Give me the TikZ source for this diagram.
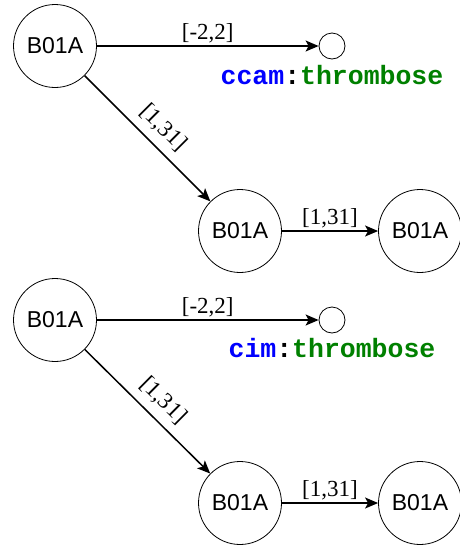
\documentclass[tikz,border=0pt]{standalone}
\usepackage{fontspec}
\setmainfont{Liberation Serif}
\setsansfont{Liberation Sans}
\setmonofont{Liberation Mono}
\usetikzlibrary{arrows.meta}
\definecolor{kwblue}{RGB}{0,0,255}
\definecolor{kwgreen}{RGB}{0,128,0}
\begin{document}
\begin{tikzpicture}[x=1pt,y=-1pt,
  state/.style={circle,draw,line width=0.8pt,minimum size=83pt,inner sep=0pt,font=\sffamily\fontsize{23}{26}\selectfont},
  endstate/.style={circle,draw,line width=0.8pt,minimum size=26pt,inner sep=0pt},
  trans/.style={-{Stealth[length=13pt,width=11pt,inset=3pt]},line width=1.5pt},
  lab/.style={font=\fontsize{23}{25}\selectfont},
  kw/.style={font=\ttfamily\bfseries\fontsize{26.5}{28}\selectfont}]
\useasboundingbox (0,0) rectangle (460,547);
% top
\node[state] (a1) at (55,46) {B01A};
\node[endstate] (e1) at (332,46) {};
\node[state] (b1) at (240,231) {B01A};
\node[state] (c1) at (420,231) {B01A};
\node[kw] (t1) at (332,75) {\textcolor{kwblue}{ccam}:\textcolor{kwgreen}{thrombose}};
\draw[trans] (a1) -- node[lab,above,yshift=-1pt] {[-2,2]} (e1);
\draw[trans] (a1) -- node[lab,sloped,above=5pt,pos=0.52] {[1,31]} (b1);
\draw[trans] (b1) -- node[lab,above,yshift=-1pt] {[1,31]} (c1);
% bottom
\node[state] (a2) at (55,320) {B01A};
\node[endstate] (e2) at (332,320) {};
\node[state] (b2) at (240,503) {B01A};
\node[state] (c2) at (420,503) {B01A};
\node[kw] (t2) at (332,348) {\textcolor{kwblue}{cim}:\textcolor{kwgreen}{thrombose}};
\draw[trans] (a2) -- node[lab,above,yshift=-1pt] {[-2,2]} (e2);
\draw[trans] (a2) -- node[lab,sloped,above=5pt,pos=0.52] {[1,31]} (b2);
\draw[trans] (b2) -- node[lab,above,yshift=-1pt] {[1,31]} (c2);
\end{tikzpicture}
\end{document}
